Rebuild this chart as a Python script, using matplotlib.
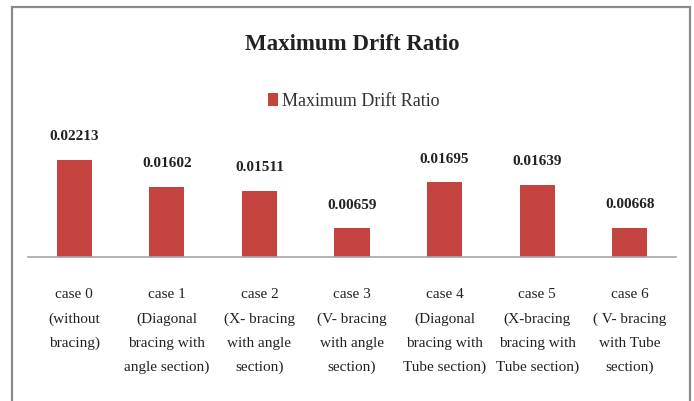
import matplotlib
matplotlib.use("Agg")
import matplotlib.pyplot as plt
from matplotlib.patches import Rectangle

# Maximum drift ratio for each bracing case
cases = [
    "case 0\n(without\nbracing)",
    "case 1\n(Diagonal\nbracing with\nangle section)",
    "case 2\n(X- bracing\nwith angle\nsection)",
    "case 3\n(V- bracing\nwith angle\nsection)",
    "case 4\n(Diagonal\nbracing with\nTube section)",
    "case 5\n(X-bracing\nbracing with\nTube section)",
    "case 6\n( V- bracing\nwith Tube\nsection)",
]
drift_ratio = [0.02213, 0.01602, 0.01511, 0.00659, 0.01695, 0.01639, 0.00668]
value_labels = ["0.02213", "0.01602", "0.01511", "0.00659", "0.01695", "0.01639", "0.00668"]

bar_color = "#C4433F"
text_color = "#222222"
serif = ["Liberation Serif", "DejaVu Serif"]

W, H = 694, 401
fig = plt.figure(figsize=(W / 100, H / 100), dpi=100)
fig.patch.set_facecolor("white")

# outer chart frame (bottom edge runs past the image)
fig.add_artist(Rectangle((12 / W, -10 / H), 678 / W, 404 / H,
                         transform=fig.transFigure, fill=False,
                         edgecolor="#8a8a8a", linewidth=1.6))

ax = fig.add_axes([28 / W, 1 - 257 / H, 648 / W, 110 / H])
x = list(range(len(cases)))
bars = ax.bar(x, drift_ratio, width=0.38, color=bar_color,
              label="Maximum Drift Ratio", zorder=2)

ax.set_xlim(-0.5, len(cases) - 0.5)
ax.set_ylim(0, 0.025)
ax.set_yticks([])
ax.set_xticks(x)
ax.set_xticklabels(cases, fontfamily=serif, fontsize=11, color=text_color,
                   linespacing=2.08)
ax.tick_params(axis="x", length=0, pad=22.5)
for side in ["top", "left", "right"]:
    ax.spines[side].set_visible(False)
ax.spines["bottom"].set_color("#a6a6a6")
ax.spines["bottom"].set_linewidth(1.2)
ax.patch.set_alpha(0)

# value labels above the bars
for xi, v, lab in zip(x, drift_ratio, value_labels):
    ax.annotate(lab, (xi, v), xytext=(0, 16.5), textcoords="offset points",
                ha="center", va="center", fontfamily=serif, fontsize=11,
                fontweight="bold", color=text_color, annotation_clip=False)

fig.text(352 / W, 1 - 45 / H, "Maximum Drift Ratio", ha="center", va="center",
         fontfamily=serif, fontsize=16.5, fontweight="bold", color=text_color)

fig.legend(handles=[bars], labels=["Maximum Drift Ratio"],
           loc="center", bbox_to_anchor=(354 / W, 1 - 101 / H),
           frameon=False, handlelength=0.5, handleheight=0.75,
           handletextpad=0.25, borderpad=0,
           prop={"family": serif, "size": 13})
for t in fig.legends[0].get_texts():
    t.set_color("#333333")

fig.savefig("out.png", dpi=100)
